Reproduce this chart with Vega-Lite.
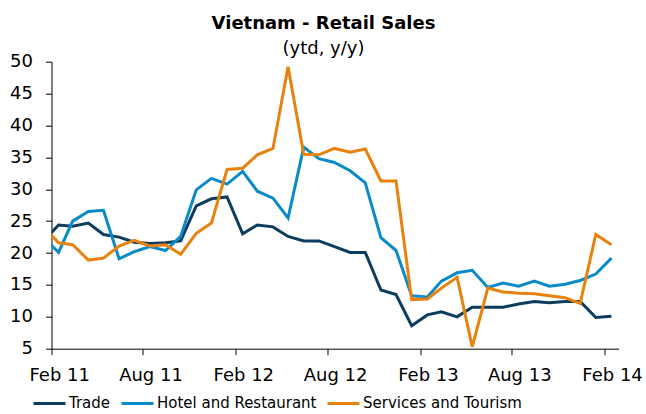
{
  "$schema": "https://vega.github.io/schema/vega-lite/v6.json",
  "width": 567,
  "height": 287,
  "autosize": {"type": "none"},
  "padding": {"left": 51.5, "top": 61.7, "right": 27.3, "bottom": 65.3},
  "background": "white",
  "config": {"view": {"stroke": null}, "font": "DejaVu Sans"},
  "title": {
    "text": "Vietnam - Retail Sales",
    "subtitle": "(ytd, y/y)",
    "anchor": "middle",
    "frame": "group",
    "dx": -11.5,
    "offset": -5,
    "fontSize": 18,
    "fontWeight": "bold",
    "font": "DejaVu Sans",
    "color": "#000",
    "subtitleFont": "DejaVu Sans",
    "subtitleFontSize": 18,
    "subtitleColor": "#000",
    "subtitlePadding": 7
  },
  "data": {
    "values": [
      {"month": "2011-01-15", "series": "Trade", "value": 21.8},
      {"month": "2011-02-15", "series": "Trade", "value": 24.4},
      {"month": "2011-03-15", "series": "Trade", "value": 24.2},
      {"month": "2011-04-15", "series": "Trade", "value": 24.7},
      {"month": "2011-05-15", "series": "Trade", "value": 22.9},
      {"month": "2011-06-15", "series": "Trade", "value": 22.5},
      {"month": "2011-07-15", "series": "Trade", "value": 21.7},
      {"month": "2011-08-15", "series": "Trade", "value": 21.5},
      {"month": "2011-09-15", "series": "Trade", "value": 21.6},
      {"month": "2011-10-15", "series": "Trade", "value": 21.9},
      {"month": "2011-11-15", "series": "Trade", "value": 27.4},
      {"month": "2011-12-15", "series": "Trade", "value": 28.5},
      {"month": "2012-01-15", "series": "Trade", "value": 28.8},
      {"month": "2012-02-15", "series": "Trade", "value": 23.0},
      {"month": "2012-03-15", "series": "Trade", "value": 24.4},
      {"month": "2012-04-15", "series": "Trade", "value": 24.1},
      {"month": "2012-05-15", "series": "Trade", "value": 22.6},
      {"month": "2012-06-15", "series": "Trade", "value": 21.9},
      {"month": "2012-07-15", "series": "Trade", "value": 21.9},
      {"month": "2012-08-15", "series": "Trade", "value": 21.0},
      {"month": "2012-09-15", "series": "Trade", "value": 20.1},
      {"month": "2012-10-15", "series": "Trade", "value": 20.1},
      {"month": "2012-11-15", "series": "Trade", "value": 14.2},
      {"month": "2012-12-15", "series": "Trade", "value": 13.5},
      {"month": "2013-01-15", "series": "Trade", "value": 8.6},
      {"month": "2013-02-15", "series": "Trade", "value": 10.3},
      {"month": "2013-03-15", "series": "Trade", "value": 10.8},
      {"month": "2013-04-15", "series": "Trade", "value": 10.0},
      {"month": "2013-05-15", "series": "Trade", "value": 11.5},
      {"month": "2013-06-15", "series": "Trade", "value": 11.5},
      {"month": "2013-07-15", "series": "Trade", "value": 11.5},
      {"month": "2013-08-15", "series": "Trade", "value": 12.0},
      {"month": "2013-09-15", "series": "Trade", "value": 12.4},
      {"month": "2013-10-15", "series": "Trade", "value": 12.2},
      {"month": "2013-11-15", "series": "Trade", "value": 12.4},
      {"month": "2013-12-15", "series": "Trade", "value": 12.4},
      {"month": "2014-01-15", "series": "Trade", "value": 9.9},
      {"month": "2014-02-15", "series": "Trade", "value": 10.1},
      {"month": "2011-01-15", "series": "Hotel and Restaurant", "value": 22.5},
      {"month": "2011-02-15", "series": "Hotel and Restaurant", "value": 20.1},
      {"month": "2011-03-15", "series": "Hotel and Restaurant", "value": 25.0},
      {"month": "2011-04-15", "series": "Hotel and Restaurant", "value": 26.5},
      {"month": "2011-05-15", "series": "Hotel and Restaurant", "value": 26.7},
      {"month": "2011-06-15", "series": "Hotel and Restaurant", "value": 19.1},
      {"month": "2011-07-15", "series": "Hotel and Restaurant", "value": 20.2},
      {"month": "2011-08-15", "series": "Hotel and Restaurant", "value": 21.0},
      {"month": "2011-09-15", "series": "Hotel and Restaurant", "value": 20.4},
      {"month": "2011-10-15", "series": "Hotel and Restaurant", "value": 22.6},
      {"month": "2011-11-15", "series": "Hotel and Restaurant", "value": 29.9},
      {"month": "2011-12-15", "series": "Hotel and Restaurant", "value": 31.7},
      {"month": "2012-01-15", "series": "Hotel and Restaurant", "value": 30.8},
      {"month": "2012-02-15", "series": "Hotel and Restaurant", "value": 32.8},
      {"month": "2012-03-15", "series": "Hotel and Restaurant", "value": 29.7},
      {"month": "2012-04-15", "series": "Hotel and Restaurant", "value": 28.6},
      {"month": "2012-05-15", "series": "Hotel and Restaurant", "value": 25.5},
      {"month": "2012-06-15", "series": "Hotel and Restaurant", "value": 36.6},
      {"month": "2012-07-15", "series": "Hotel and Restaurant", "value": 34.8},
      {"month": "2012-08-15", "series": "Hotel and Restaurant", "value": 34.2},
      {"month": "2012-09-15", "series": "Hotel and Restaurant", "value": 32.9},
      {"month": "2012-10-15", "series": "Hotel and Restaurant", "value": 31.0},
      {"month": "2012-11-15", "series": "Hotel and Restaurant", "value": 22.4},
      {"month": "2012-12-15", "series": "Hotel and Restaurant", "value": 20.4},
      {"month": "2013-01-15", "series": "Hotel and Restaurant", "value": 13.3},
      {"month": "2013-02-15", "series": "Hotel and Restaurant", "value": 13.1},
      {"month": "2013-03-15", "series": "Hotel and Restaurant", "value": 15.6},
      {"month": "2013-04-15", "series": "Hotel and Restaurant", "value": 16.9},
      {"month": "2013-05-15", "series": "Hotel and Restaurant", "value": 17.3},
      {"month": "2013-06-15", "series": "Hotel and Restaurant", "value": 14.6},
      {"month": "2013-07-15", "series": "Hotel and Restaurant", "value": 15.3},
      {"month": "2013-08-15", "series": "Hotel and Restaurant", "value": 14.8},
      {"month": "2013-09-15", "series": "Hotel and Restaurant", "value": 15.6},
      {"month": "2013-10-15", "series": "Hotel and Restaurant", "value": 14.8},
      {"month": "2013-11-15", "series": "Hotel and Restaurant", "value": 15.1},
      {"month": "2013-12-15", "series": "Hotel and Restaurant", "value": 15.7},
      {"month": "2014-01-15", "series": "Hotel and Restaurant", "value": 16.7},
      {"month": "2014-02-15", "series": "Hotel and Restaurant", "value": 19.2},
      {"month": "2011-01-15", "series": "Services and Tourism", "value": 24.2},
      {"month": "2011-02-15", "series": "Services and Tourism", "value": 21.6},
      {"month": "2011-03-15", "series": "Services and Tourism", "value": 21.3},
      {"month": "2011-04-15", "series": "Services and Tourism", "value": 18.9},
      {"month": "2011-05-15", "series": "Services and Tourism", "value": 19.2},
      {"month": "2011-06-15", "series": "Services and Tourism", "value": 21.1},
      {"month": "2011-07-15", "series": "Services and Tourism", "value": 22.0},
      {"month": "2011-08-15", "series": "Services and Tourism", "value": 21.1},
      {"month": "2011-09-15", "series": "Services and Tourism", "value": 21.3},
      {"month": "2011-10-15", "series": "Services and Tourism", "value": 19.8},
      {"month": "2011-11-15", "series": "Services and Tourism", "value": 23.1},
      {"month": "2011-12-15", "series": "Services and Tourism", "value": 24.7},
      {"month": "2012-01-15", "series": "Services and Tourism", "value": 33.1},
      {"month": "2012-02-15", "series": "Services and Tourism", "value": 33.3},
      {"month": "2012-03-15", "series": "Services and Tourism", "value": 35.4},
      {"month": "2012-04-15", "series": "Services and Tourism", "value": 36.4},
      {"month": "2012-05-15", "series": "Services and Tourism", "value": 49.2},
      {"month": "2012-06-15", "series": "Services and Tourism", "value": 35.5},
      {"month": "2012-07-15", "series": "Services and Tourism", "value": 35.4},
      {"month": "2012-08-15", "series": "Services and Tourism", "value": 36.4},
      {"month": "2012-09-15", "series": "Services and Tourism", "value": 35.8},
      {"month": "2012-10-15", "series": "Services and Tourism", "value": 36.3},
      {"month": "2012-11-15", "series": "Services and Tourism", "value": 31.3},
      {"month": "2012-12-15", "series": "Services and Tourism", "value": 31.3},
      {"month": "2013-01-15", "series": "Services and Tourism", "value": 12.7},
      {"month": "2013-02-15", "series": "Services and Tourism", "value": 12.8},
      {"month": "2013-03-15", "series": "Services and Tourism", "value": 14.5},
      {"month": "2013-04-15", "series": "Services and Tourism", "value": 16.2},
      {"month": "2013-05-15", "series": "Services and Tourism", "value": 5.3},
      {"month": "2013-06-15", "series": "Services and Tourism", "value": 14.5},
      {"month": "2013-07-15", "series": "Services and Tourism", "value": 13.9},
      {"month": "2013-08-15", "series": "Services and Tourism", "value": 13.7},
      {"month": "2013-09-15", "series": "Services and Tourism", "value": 13.6},
      {"month": "2013-10-15", "series": "Services and Tourism", "value": 13.3},
      {"month": "2013-11-15", "series": "Services and Tourism", "value": 13.0},
      {"month": "2013-12-15", "series": "Services and Tourism", "value": 12.1},
      {"month": "2014-01-15", "series": "Services and Tourism", "value": 22.9},
      {"month": "2014-02-15", "series": "Services and Tourism", "value": 21.3}
    ]
  },
  "mark": {"type": "line", "strokeWidth": 3, "clip": true, "strokeJoin": "miter"},
  "encoding": {
    "x": {
      "field": "month",
      "type": "temporal",
      "scale": {
        "type": "utc",
        "domain": [
          {"year": 2011, "month": 2, "date": 1, "utc": true},
          {"year": 2014, "month": 3, "date": 1, "utc": true}
        ]
      },
      "axis": {
        "title": null,
        "grid": false,
        "values": [
          {"year": 2011, "month": 2, "date": 1, "utc": true},
          {"year": 2011, "month": 8, "date": 1, "utc": true},
          {"year": 2012, "month": 2, "date": 1, "utc": true},
          {"year": 2012, "month": 8, "date": 1, "utc": true},
          {"year": 2013, "month": 2, "date": 1, "utc": true},
          {"year": 2013, "month": 8, "date": 1, "utc": true},
          {"year": 2014, "month": 2, "date": 1, "utc": true}
        ],
        "labelExpr": "utcFormat(datum.value, '%b %y')",
        "domainColor": "#000",
        "domainWidth": 1,
        "tickColor": "#000",
        "tickSize": 6,
        "labelFont": "DejaVu Sans",
        "labelFontSize": 18,
        "labelColor": "#000",
        "labelOffset": 7.7,
        "labelPadding": 12,
        "labelFlush": false,
        "labelOverlap": false
      }
    },
    "y": {
      "field": "value",
      "type": "quantitative",
      "scale": {"domain": [5, 50], "nice": false, "zero": false},
      "axis": {
        "title": null,
        "grid": false,
        "values": [5, 10, 15, 20, 25, 30, 35, 40, 45, 50],
        "domainColor": "#000",
        "domainWidth": 1,
        "tickColor": "#000",
        "tickSize": 6,
        "labelFont": "DejaVu Sans",
        "labelFontSize": 18,
        "labelColor": "#000",
        "labelPadding": 13,
        "labelOverlap": false
      }
    },
    "color": {
      "field": "series",
      "type": "nominal",
      "sort": ["Trade", "Hotel and Restaurant", "Services and Tourism"],
      "scale": {
        "domain": ["Trade", "Hotel and Restaurant", "Services and Tourism"],
        "range": ["#0c3d5e", "#0a8bc8", "#e8820c"]
      },
      "legend": {
        "orient": "none",
        "legendX": -19.5,
        "legendY": 324,
        "direction": "horizontal",
        "title": null,
        "symbolType": "stroke",
        "symbolSize": 1024,
        "symbolStrokeWidth": 3,
        "labelFont": "DejaVu Sans",
        "labelFontSize": 15,
        "labelColor": "#000",
        "labelOffset": 2,
        "columnPadding": 4,
        "labelLimit": 400
      }
    }
  }
}
